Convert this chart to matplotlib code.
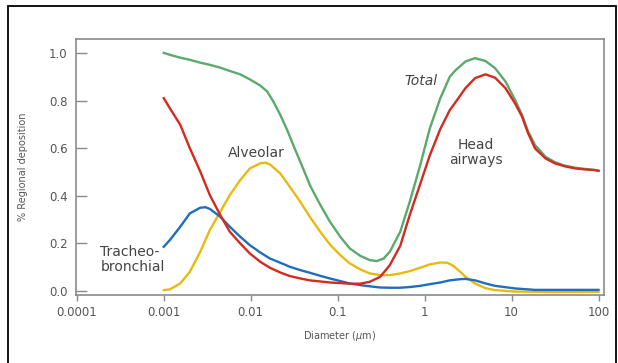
import matplotlib.pyplot as plt
import matplotlib.patches as patches
import numpy as np

# log10 of diameter (um) and deposition fraction
total_logd = [-3.0, -2.93, -2.81, -2.70, -2.58, -2.47, -2.35, -2.24, -2.12, -2.01, -1.89, -1.81,
              -1.74, -1.66, -1.58, -1.51, -1.43, -1.35, -1.32, -1.20, -1.09, -0.97, -0.86, -0.74,
              -0.63, -0.55, -0.47, -0.40, -0.28, -0.17, -0.05, 0.06, 0.18, 0.29, 0.35, 0.47,
              0.58, 0.70, 0.81, 0.93, 1.04, 1.12, 1.19, 1.27, 1.39, 1.50, 1.61, 1.73, 1.84,
              1.96, 2.0]
total_val = [1.0, 0.992, 0.980, 0.971, 0.959, 0.950, 0.938, 0.924, 0.910, 0.889, 0.863, 0.838,
             0.796, 0.740, 0.676, 0.613, 0.543, 0.473, 0.445, 0.362, 0.292, 0.228, 0.179, 0.148,
             0.130, 0.126, 0.137, 0.165, 0.249, 0.376, 0.529, 0.683, 0.809, 0.900, 0.925, 0.964,
             0.978, 0.966, 0.936, 0.880, 0.803, 0.740, 0.670, 0.613, 0.564, 0.541, 0.527, 0.518,
             0.513, 0.508, 0.505]

head_logd = [-3.0, -2.93, -2.81, -2.70, -2.58, -2.47, -2.35, -2.24, -2.12, -2.01, -1.89, -1.78,
             -1.66, -1.55, -1.43, -1.32, -1.09, -0.86, -0.74, -0.63, -0.51, -0.40, -0.28, -0.17,
             -0.05, 0.06, 0.18, 0.29, 0.35, 0.47, 0.58, 0.70, 0.81, 0.93, 1.04, 1.12, 1.19,
             1.27, 1.39, 1.50, 1.61, 1.73, 1.84, 1.96, 2.0]
head_val = [0.81, 0.768, 0.698, 0.600, 0.502, 0.403, 0.319, 0.249, 0.200, 0.158, 0.123, 0.098,
            0.078, 0.063, 0.053, 0.045, 0.036, 0.031, 0.031, 0.039, 0.060, 0.109, 0.19, 0.32,
            0.45, 0.57, 0.68, 0.76, 0.79, 0.852, 0.894, 0.910, 0.896, 0.852, 0.788, 0.733, 0.663,
            0.599, 0.557, 0.536, 0.524, 0.515, 0.511, 0.508, 0.505]

alv_logd = [-3.0, -2.93, -2.81, -2.70, -2.58, -2.47, -2.35, -2.24, -2.12, -2.01, -1.89, -1.83,
            -1.78, -1.66, -1.55, -1.43, -1.32, -1.20, -1.09, -0.97, -0.86, -0.74, -0.63, -0.51,
            -0.40, -0.28, -0.17, -0.05, 0.06, 0.18, 0.26, 0.33, 0.41, 0.47, 0.58, 0.70, 0.81,
            1.04, 1.5, 2.0]
alv_val = [0.004, 0.007, 0.032, 0.081, 0.165, 0.256, 0.333, 0.403, 0.466, 0.515, 0.536, 0.539,
           0.532, 0.494, 0.438, 0.375, 0.312, 0.249, 0.196, 0.151, 0.116, 0.091, 0.074, 0.067,
           0.067, 0.074, 0.084, 0.098, 0.112, 0.120, 0.119, 0.106, 0.081, 0.06, 0.032, 0.012,
           0.004, -0.002, -0.004, -0.003]

tb_logd = [-3.0, -2.93, -2.87, -2.81, -2.70, -2.58, -2.52, -2.47, -2.35, -2.24, -2.12, -2.01,
           -1.89, -1.78, -1.66, -1.55, -1.43, -1.32, -1.20, -1.09, -0.97, -0.86, -0.74, -0.63,
           -0.51, -0.40, -0.28, -0.17, -0.05, 0.06, 0.18, 0.29, 0.41, 0.47, 0.58, 0.70, 0.81,
           1.04, 1.27, 2.0]
tb_val = [0.186, 0.214, 0.242, 0.270, 0.326, 0.350, 0.352, 0.345, 0.312, 0.270, 0.228, 0.193,
          0.162, 0.137, 0.119, 0.102, 0.088, 0.077, 0.064, 0.053, 0.042, 0.032, 0.025, 0.020,
          0.015, 0.014, 0.014, 0.017, 0.022, 0.029, 0.036, 0.045, 0.050, 0.051, 0.045, 0.032,
          0.022, 0.011, 0.005, 0.005]

xticks = [0.0001, 0.001, 0.01, 0.1, 1, 10, 100]
xticklabels = ["0.0001", "0.001", "0.01", "0.1", "1", "10", "100"]
yticks = [0.0, 0.2, 0.4, 0.6, 0.8, 1.0]

fig = plt.figure(figsize=(6.18, 3.63), dpi=100)
ax = fig.add_axes([0.123, 0.187, 0.854, 0.706])

# black frame around the picture
fig.patches.append(patches.Rectangle((8 / 618, -0.05), 608 / 618, 1 - 6 / 363 + 0.05,
                                     transform=fig.transFigure, fill=False,
                                     edgecolor="black", linewidth=1.3))

lw = 1.7
ax.plot(10 ** np.array(total_logd), total_val, color="#5aaa6c", lw=lw)
ax.plot(10 ** np.array(alv_logd), alv_val, color="#e9b910", lw=lw)
ax.plot(10 ** np.array(tb_logd), tb_val, color="#1f6dbf", lw=lw)
ax.plot(10 ** np.array(head_logd), head_val, color="#d42a20", lw=lw)

ax.set_xscale("log")
ax.set_xlim(1e-4 * 0.98, 115)
ax.set_ylim(-0.017, 1.059)
ax.set_xticks(xticks)
ax.set_xticklabels(xticklabels)
ax.minorticks_off()
ax.set_yticks(yticks)
ax.set_yticklabels([f"{v:.1f}" for v in yticks])

grey = "#8a8a8a"
for s in ax.spines.values():
  s.set_color(grey)
  s.set_linewidth(1.2)
ax.tick_params(axis="y", direction="in", length=8, width=1, color=grey,
               labelsize=8.5, labelcolor="#555555", pad=6)
ax.tick_params(axis="x", direction="out", length=4, width=1, color=grey,
               labelsize=8.5, labelcolor="#555555", pad=4)

ax.set_xlabel("Diameter ($\\mu$m)", fontsize=7, color="#555555", labelpad=7)
ax.set_ylabel("% Regional deposition", fontsize=7, color="#555555", labelpad=15)

txt = "#444444"
ax.text(0.91, 0.88, "Total", fontsize=10, style="italic", color=txt, ha="center", va="center")
ax.text(3.9, 0.58, "Head\nairways", fontsize=10, color=txt, ha="center", va="center",
        linespacing=1.1)
ax.text(0.0115, 0.578, "Alveolar", fontsize=10, color=txt, ha="center", va="center")
ax.text(1.87e-4, 0.134, "Tracheo-\nbronchial", fontsize=10, color=txt, ha="left",
        va="center", linespacing=1.1)

plt.savefig("out.png", dpi=100)
